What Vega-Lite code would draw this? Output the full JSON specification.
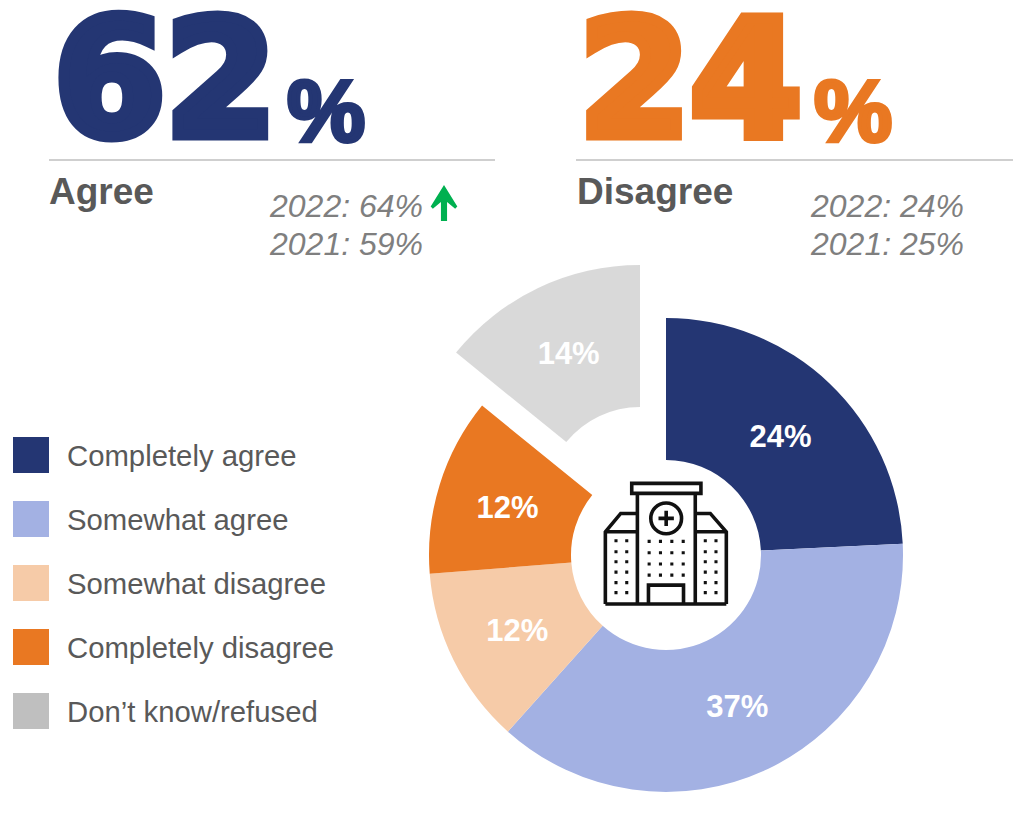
{
"$schema":"https://vega.github.io/schema/vega-lite/v6.json",
"width":1013,"height":822,"padding":0,"autosize":{"type":"none"},"background":"white",
"view":{"stroke":null},
"datasets":{
"slices":[
{"category":"Completely agree","share":24,"label":"24%","order":1},
{"category":"Somewhat agree","share":37,"label":"37%","order":2},
{"category":"Somewhat disagree","share":12,"label":"12%","order":3},
{"category":"Completely disagree","share":12,"label":"12%","order":4},
{"category":"Don’t know/refused","share":14,"label":"14%","order":5}],
"kpis":[
{"group":"Agree","net":"62","label":"Agree"},
{"group":"Disagree","net":"24","label":"Disagree"}],
"history":[
{"group":"Agree","year":"2022","text":"2022: 64%"},
{"group":"Agree","year":"2021","text":"2021: 59%"},
{"group":"Disagree","year":"2022","text":"2022: 24%"},
{"group":"Disagree","year":"2021","text":"2021: 25%"}]
},
"resolve":{"scale":{"x":"independent","y":"independent","theta":"independent"}},
"layer":[
{"data":{"name":"slices"},
 "mark":{"type":"arc","x":666,"y":555,"radius":237,"radius2":95,
   "xOffset":{"expr":"datum.order==5?-26:0"},"yOffset":{"expr":"datum.order==5?-53:0"}},
 "encoding":{
  "theta":{"field":"share","type":"quantitative","stack":true},
  "order":{"field":"order"},
  "color":{"field":"category","type":"nominal",
    "scale":{"domain":["Completely agree","Somewhat agree","Somewhat disagree","Completely disagree","Don’t know/refused"],
             "range":["#243673","#A3B1E3","#F6CBA8","#E97822","#BFBFBF"]},
    "legend":{"title":null,"orient":"none","legendX":13,"legendY":437,"symbolType":"square","symbolSize":1296,"symbolStrokeWidth":0,"symbolOpacity":1,
      "labelFont":"Liberation Sans","labelFontSize":29.3,"labelColor":"#595959","labelOffset":18,"rowPadding":28,"labelLimit":400,
      "encode":{"labels":{"update":{"dy":{"value":2}}}}}},
  "fillOpacity":{"condition":{"test":"datum.order==5","value":0.594},"value":1}
 }},
{"data":{"name":"slices"},
 "mark":{"type":"text","x":666,"y":555,"radius":166,"font":"Liberation Sans","fontWeight":"bold","fontSize":31,"fill":"white",
   "xOffset":{"expr":"datum.order==5?-26:0"},"yOffset":{"expr":"datum.order==5?-50:3"}},
 "encoding":{
  "theta":{"field":"share","type":"quantitative","stack":true},
  "order":{"field":"order"},
  "detail":{"field":"category"},
  "text":{"field":"label"}
 }},
{"data":{"name":"kpis"},"mark":{"type":"text","y":135,"align":"left","baseline":"alphabetic","font":"DejaVu Sans","fontWeight":"bold","fontSize":160,"strokeWidth":11,"strokeJoin":"miter"},
 "encoding":{
  "x":{"field":"group","type":"nominal","scale":{"type":"point","padding":0,"domain":["Agree","Disagree"],"range":[54,579]},"axis":null},
  "text":{"field":"net"},
  "fill":{"field":"group","scale":{"domain":["Agree","Disagree"],"range":["#243673","#E97822"]},"legend":null},
  "stroke":{"field":"group","scale":{"domain":["Agree","Disagree"],"range":["#243673","#E97822"]},"legend":null}
 }},
{"data":{"name":"kpis"},"mark":{"type":"text","y":141,"align":"left","baseline":"alphabetic","font":"Liberation Sans","fontWeight":"bold","fontSize":88,"text":"%","strokeWidth":4},
 "encoding":{
  "x":{"field":"group","type":"nominal","scale":{"type":"point","padding":0,"range":[287,814]},"axis":null},
  "fill":{"field":"group","scale":{"domain":["Agree","Disagree"],"range":["#243673","#E97822"]},"legend":null},
  "stroke":{"field":"group","scale":{"domain":["Agree","Disagree"],"range":["#243673","#E97822"]},"legend":null}
 }},
{"data":{"name":"kpis"},"mark":{"type":"text","y":204,"align":"left","baseline":"alphabetic","font":"Liberation Sans","fontWeight":"bold","fontSize":37,"fill":"#595959"},
 "encoding":{
  "x":{"field":"group","type":"nominal","scale":{"type":"point","padding":0,"range":[49,577]},"axis":null},
  "text":{"field":"label"}
 }},
{"data":{"name":"history"},"mark":{"type":"text","align":"left","baseline":"alphabetic","font":"Liberation Sans","fontStyle":"italic","fontSize":32,"fill":"#7F7F7F"},
 "encoding":{
  "x":{"field":"group","type":"nominal","scale":{"type":"point","padding":0,"range":[270,811]},"axis":null},
  "y":{"field":"year","type":"ordinal","scale":{"type":"point","padding":0,"domain":["2022","2021"],"range":[217,255]},"axis":null},
  "text":{"field":"text"}
 }},
{"data":{"name":"kpis"},"mark":{"type":"rule","stroke":"#BFBFBF","strokeWidth":1.5},
 "transform":[{"filter":"datum.group=='Agree'"}],
 "encoding":{
  "x":{"field":"group","type":"nominal","scale":{"type":"point","padding":0,"domain":["Agree","Disagree"],"range":[49,576]},"axis":null},
  "x2":{"value":495},
  "y":{"value":160}}},
{"data":{"name":"kpis"},"mark":{"type":"rule","stroke":"#BFBFBF","strokeWidth":1.5},
 "transform":[{"filter":"datum.group=='Disagree'"}],
 "encoding":{
  "x":{"field":"group","type":"nominal","scale":{"type":"point","padding":0,"domain":["Agree","Disagree"],"range":[49,576]},"axis":null},
  "x2":{"value":1013},
  "y":{"value":160}}},
{"data":{"values":[{"a":1}]},"mark":{"type":"point","x":444,"y":203,"size":1296,"filled":true,"fill":"#00B050","opacity":1,"stroke":null,
  "shape":"M0,-1 L.74,.2 L.62,.32 L.17,-.05 L.17,1 L-.17,1 L-.17,-.05 L-.62,.32 L-.74,.2 Z"},"encoding":{}},
{"data":{"values":[{"a":1}]},"mark":{"type":"point","x":665.5,"y":543.5,"size":15129,"filled":false,"stroke":"#111111","strokeWidth":3.6,"opacity":1,
  "shape":"M-.549,-.978 L.576,-.978 L.576,-.815 L-.549,-.815 Z M-.457,-.815 L-.457,.984 M.484,-.815 L.484,.984 M-.978,.984 L.989,.984 M-.978,.984 L-.978,-.19 L-.728,-.489 L-.457,-.489 M-.978,-.19 L-.457,-.19 M.989,.984 L.989,-.19 L.728,-.489 L.484,-.489 M.989,-.19 L.484,-.19 M-.277,.984 L-.277,.677 L.293,.677 L.293,.984 M.261,-.408 A.25,.25 0 1 1 -.239,-.408 A.25,.25 0 1 1 .261,-.408 M-.114,-.408 L.136,-.408 M.011,-.533 L.011,-.283"},"encoding":{}},
{"data":{"values":[{"a":1}]},"mark":{"type":"point","x":665.5,"y":543.5,"size":15129,"filled":true,"fill":"#111111","stroke":null,"opacity":1,
  "shape":"M-.83,-.07h.05v.05h-.05z M-.655,-.07h.05v.05h-.05z M-.83,.108h.05v.05h-.05z M-.655,.108h.05v.05h-.05z M-.83,.271h.05v.05h-.05z M-.655,.271h.05v.05h-.05z M-.83,.44h.05v.05h-.05z M-.655,.44h.05v.05h-.05z M-.83,.611h.05v.05h-.05z M-.655,.611h.05v.05h-.05z M-.83,.774h.05v.05h-.05z M-.655,.774h.05v.05h-.05z M.622,-.07h.05v.05h-.05z M.796,-.07h.05v.05h-.05z M.622,.108h.05v.05h-.05z M.796,.108h.05v.05h-.05z M.622,.271h.05v.05h-.05z M.796,.271h.05v.05h-.05z M.622,.44h.05v.05h-.05z M.796,.44h.05v.05h-.05z M.622,.611h.05v.05h-.05z M.796,.611h.05v.05h-.05z M.622,.774h.05v.05h-.05z M.796,.774h.05v.05h-.05z M-.291,-.06h.05v.05h-.05z M-.107,-.06h.05v.05h-.05z M.078,-.06h.05v.05h-.05z M.263,-.06h.05v.05h-.05z M-.291,.124h.05v.05h-.05z M-.107,.124h.05v.05h-.05z M.078,.124h.05v.05h-.05z M.263,.124h.05v.05h-.05z M-.291,.309h.05v.05h-.05z M-.107,.309h.05v.05h-.05z M.078,.309h.05v.05h-.05z M.263,.309h.05v.05h-.05z M-.291,.489h.05v.05h-.05z M-.107,.489h.05v.05h-.05z M.078,.489h.05v.05h-.05z M.263,.489h.05v.05h-.05z"},"encoding":{}}
]
}
